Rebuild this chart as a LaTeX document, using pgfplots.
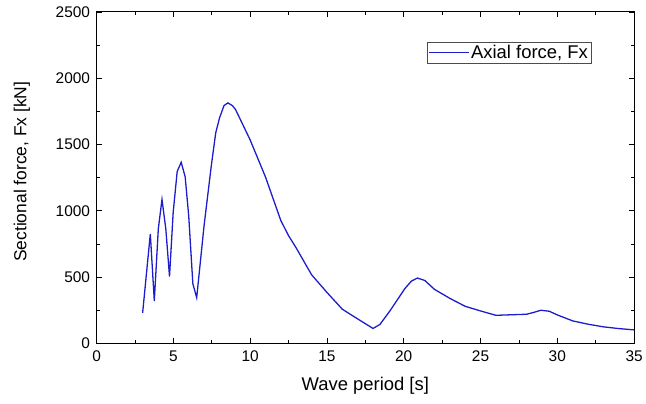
\documentclass[border=0pt]{standalone}
\usepackage{pgfplots}
\pgfplotsset{compat=1.18}
\usepackage{fontspec}
\setmainfont{Liberation Sans}
\definecolor{lineblue}{RGB}{28,28,205}
\begin{document}
\begin{tikzpicture}
\begin{axis}[
  scale only axis,
  width=540pt, height=333pt,
  xmin=0, xmax=35, ymin=0, ymax=2500,
  xtick={0,5,...,35}, ytick={0,500,...,2500},
  minor x tick num=1, minor y tick num=1,
  tick align=inside,
  major tick length=5pt, minor tick length=3pt,
  tick style={black, line width=0.8pt},
  axis line style={line width=0.9pt},
  ticklabel style={font=\fontsize{15.5}{17}\selectfont},
  xticklabel style={yshift=-4pt},
  yticklabel style={xshift=-3pt},
  /pgf/number format/assume math mode=true,
  /pgf/number format/1000 sep={},
  xlabel={Wave period [s]},
  ylabel={Sectional force, Fx [kN]},
  xlabel style={font=\fontsize{18.5}{20}\selectfont, yshift=-9pt},
  ylabel style={font=\fontsize{17.5}{19}\selectfont, yshift=19pt, xshift=6pt},
  legend style={at={(0.920,0.910)}, anchor=north east, draw=black!70, line width=0.6pt,
    font=\fontsize{18.5}{20}\selectfont, inner sep=1pt, row sep=0pt},
  legend cell align=left,
  legend image code/.code={\draw[#1, line width=1.2pt] (0pt,0pt) -- (40pt,0pt);},
]
\addplot[color=lineblue, line width=1.3pt] coordinates {
(3.0,230) (3.5,826) (3.76,320) (4.02,863) (4.26,1086) (4.51,863) (4.75,505)
(4.99,989) (5.25,1297) (5.51,1366) (5.77,1256) (6.0,963) (6.27,450) (6.52,345)
(7.0,888) (7.47,1339) (7.76,1589) (8.01,1702) (8.3,1794) (8.55,1814) (8.84,1794)
(9.05,1764) (10.0,1535) (11.0,1255) (12.0,926) (12.5,813) (13.0,720) (14.0,518)
(15.0,385) (16.0,258) (17.0,185) (18.0,113) (18.45,143) (19.1,245) (20.07,413)
(20.5,470) (20.89,493) (21.37,475) (22.0,408) (23.0,340) (24.0,280) (25.0,245)
(26.0,212) (27.0,216) (28.0,220) (28.5,235) (28.93,250) (29.47,243) (30.0,215)
(31.0,170) (32.0,145) (33.0,125) (34.0,112) (35.0,102)
};
\addlegendentry{Axial force, Fx}
\end{axis}
\path ([xshift=-97pt,yshift=-60pt]current axis.south west) rectangle ([xshift=9pt,yshift=12pt]current axis.north east);
\end{tikzpicture}
\end{document}
